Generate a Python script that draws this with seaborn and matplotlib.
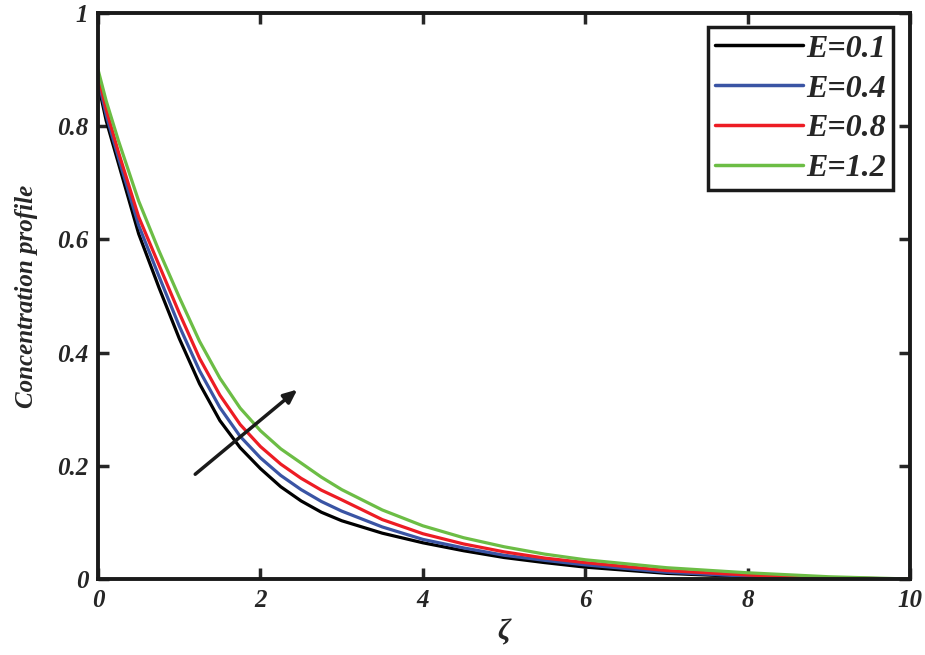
import matplotlib
matplotlib.use("Agg")
import matplotlib.pyplot as plt
import pandas as pd
import seaborn as sns

# valores
zeta = [0, 0.1, 0.25, 0.5, 0.75, 1.0, 1.25, 1.5, 1.75, 2.0, 2.25, 2.5, 2.75, 3.0,
        3.5, 4.0, 4.5, 5.0, 5.5, 6.0, 7.0, 8.0, 9.0, 10.0]
E_01 = [0.876, 0.81, 0.735, 0.61, 0.515, 0.425, 0.345, 0.28, 0.232, 0.195, 0.163, 0.138, 0.118, 0.103,
        0.081, 0.064, 0.050, 0.038, 0.029, 0.021, 0.010, 0.004, 0.001, 0.0]
E_04 = [0.884, 0.82, 0.745, 0.625, 0.535, 0.447, 0.368, 0.303, 0.252, 0.214, 0.183, 0.158, 0.137, 0.12,
        0.092, 0.070, 0.055, 0.042, 0.033, 0.025, 0.012, 0.005, 0.002, 0.0]
E_08 = [0.892, 0.83, 0.755, 0.64, 0.555, 0.47, 0.39, 0.325, 0.273, 0.234, 0.203, 0.178, 0.157, 0.14,
        0.105, 0.080, 0.062, 0.048, 0.037, 0.029, 0.015, 0.007, 0.002, 0.0]
E_12 = [0.900, 0.845, 0.775, 0.668, 0.58, 0.498, 0.42, 0.355, 0.302, 0.262, 0.23, 0.205, 0.18, 0.158,
        0.122, 0.094, 0.073, 0.057, 0.044, 0.034, 0.020, 0.011, 0.004, 0.0]
labels = ["E=0.1", "E=0.4", "E=0.8", "E=1.2"]
colors = ["#000000", "#3A54A4", "#ED1C24", "#6CBD45"]

rows = []
for lab, vals in zip(labels, [E_01, E_04, E_08, E_12]):
    for z, c in zip(zeta, vals):
        rows.append({"zeta": z, "C": c, "E": lab})
df = pd.DataFrame(rows)

sns.set_style("ticks")
plt.rcParams["font.family"] = ["Liberation Serif", "DejaVu Serif"]

fig = plt.figure(figsize=(9.25, 6.55), dpi=100)
ax = fig.add_axes([0.106, 0.116, 0.878, 0.864])

sns.lineplot(data=df, x="zeta", y="C", hue="E", palette=colors, linewidth=2.3, ax=ax)
for ln in ax.get_lines():
    ln.set_solid_joinstyle("round")

ax.set_xlim(0, 10)
ax.set_ylim(0, 1)
ax.set_xticks([0, 2, 4, 6, 8, 10])
ax.set_yticks([0, 0.2, 0.4, 0.6, 0.8, 1])
ax.set_xticklabels(["0", "2", "4", "6", "8", "10"])
ax.set_yticklabels(["0", "0.2", "0.4", "0.6", "0.8", "1"])
for t in ax.get_xticklabels() + ax.get_yticklabels():
    t.set_fontstyle("italic")
    t.set_fontweight("bold")
    t.set_fontsize(18)

ax.tick_params(direction="in", length=8, width=2.5, top=True, right=True, pad=7)
for s in ax.spines.values():
    s.set_linewidth(2.8)
    s.set_color("#1a1a1a")

ax.set_xlabel("ζ", fontsize=21, fontstyle="italic", fontweight="bold", labelpad=5)
ax.set_ylabel("Concentration profile", fontsize=18, fontstyle="italic", fontweight="bold", labelpad=14)

# flecha
ax.annotate("", xy=(2.48, 0.338), xytext=(1.17, 0.182),
            arrowprops=dict(arrowstyle="-|>,head_length=0.8,head_width=0.35", color="#1a1a1a", lw=2.5))

leg = ax.legend(loc="upper right", bbox_to_anchor=(0.979, 0.975), fontsize=23, handlelength=2.75,
                handletextpad=0.1, labelspacing=0.33, borderpad=0.22, borderaxespad=0, fancybox=False,
                framealpha=1, edgecolor="#1a1a1a")
leg.get_frame().set_linewidth(2.5)
for t in leg.get_texts():
    t.set_fontstyle("italic")
    t.set_fontweight("bold")
for h in leg.get_lines():
    h.set_linewidth(2.5)

fig.savefig("out.png", dpi=100)
